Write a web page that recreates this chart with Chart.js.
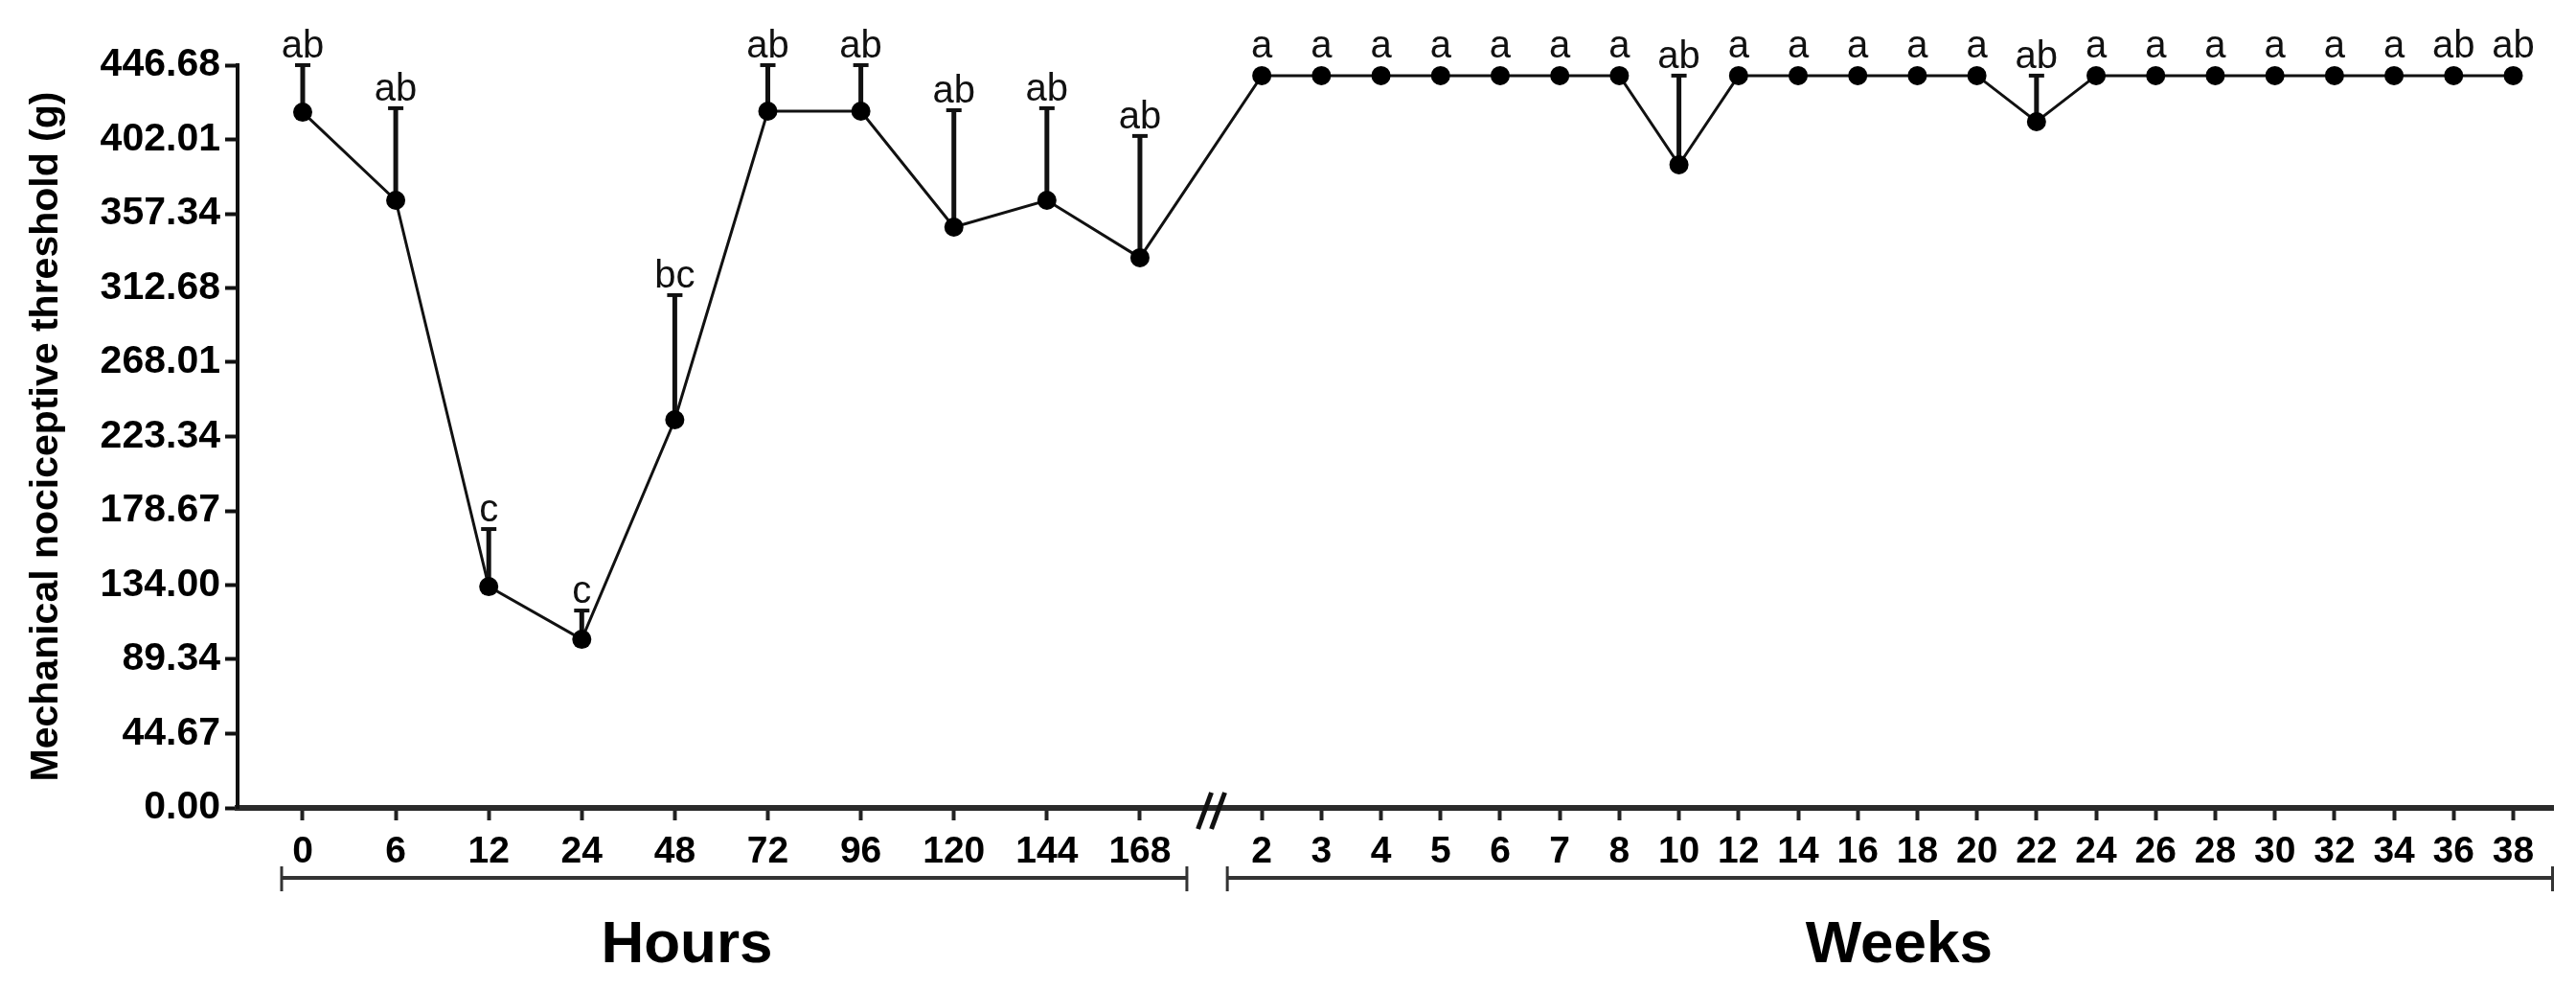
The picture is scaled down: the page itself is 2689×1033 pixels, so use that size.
<!DOCTYPE html>
<html>
<head>
<meta charset="utf-8">
<title>Mechanical nociceptive threshold</title>
<script src="https://cdn.jsdelivr.net/npm/chart.js@4.4.1/dist/chart.umd.min.js"></script>
<style>
  html, body { margin: 0; padding: 0; background: #fff; }
  #wrap { width: 2689px; height: 1033px; }
</style>
</head>
<body>
<div id="wrap"><canvas id="chart" width="2689" height="1033"></canvas></div>
<script>
// hours after treatment
var hourLabels = ['0', '6', '12', '24', '48', '72', '96', '120', '144', '168'];
var hourMeans = [418.4, 365.4, 133.1, 101.4, 233.4, 419.0, 419.0, 349.3, 365.4, 330.9];
var hourErrTops = [446.7, 420.8, 167.7, 118.7, 308.4, 446.7, 446.7, 419.6, 420.8, 404.1];
var hourLetters = ['ab', 'ab', 'c', 'c', 'bc', 'ab', 'ab', 'ab', 'ab', 'ab'];

// weeks after treatment
var weekLabels = ['2', '3', '4', '5', '6', '7', '8', '10', '12', '14', '16',
  '18', '20', '22', '24', '26', '28', '30', '32', '34', '36', '38'];
var weekMeans = [440.4, 440.4, 440.4, 440.4, 440.4, 440.4, 440.4, 386.8, 440.4, 440.4, 440.4,
  440.4, 440.4, 412.7, 440.4, 440.4, 440.4, 440.4, 440.4, 440.4, 440.4, 440.4];
var weekErrTops = [null, null, null, null, null, null, null, 440.4, null, null, null,
  null, null, 440.4, null, null, null, null, null, null, null, null];
var weekLetters = ['a', 'a', 'a', 'a', 'a', 'a', 'a', 'ab', 'a', 'a', 'a',
  'a', 'a', 'ab', 'a', 'a', 'a', 'a', 'a', 'a', 'ab', 'ab'];

var yTickLabels = ['0.00', '44.67', '89.34', '134.00', '178.67', '223.34',
  '268.01', '312.68', '357.34', '402.01', '446.68'];

// x layout: hours one unit apart, weeks packed tighter after the break
var WEEK_START = 10.31;
var WEEK_STEP = 0.6406;
var X_MIN = -0.70;
var X_MAX = 24.19;

var FONT = "'Liberation Sans', Arial, Helvetica, sans-serif";
Chart.defaults.font.family = FONT;
Chart.defaults.color = '#000';

var allX = [], allLabels = [], allMeans = [], allErr = [], allLetters = [];
hourLabels.forEach(function (lab, i) {
  allX.push(i);
  allLabels.push(lab);
  allMeans.push(hourMeans[i]);
  allErr.push(hourErrTops[i]);
  allLetters.push(hourLetters[i]);
});
weekLabels.forEach(function (lab, j) {
  allX.push(WEEK_START + j * WEEK_STEP);
  allLabels.push(lab);
  allMeans.push(weekMeans[j]);
  allErr.push(weekErrTops[j]);
  allLetters.push(weekLetters[j]);
});

var points = allX.map(function (x, i) { return { x: x, y: allMeans[i] }; });

var extras = {
  id: 'extras',
  beforeDatasetsDraw: function (chart) {
    var ctx = chart.ctx, xs = chart.scales.x, ys = chart.scales.y;
    ctx.save();
    ctx.strokeStyle = '#111';
    for (var i = 0; i < allX.length; i++) {
      if (allErr[i] == null) continue;
      var px = xs.getPixelForValue(allX[i]);
      var p0 = ys.getPixelForValue(allMeans[i]);
      var p1 = ys.getPixelForValue(allErr[i]);
      ctx.lineWidth = 5;
      ctx.beginPath();
      ctx.moveTo(px, p0);
      ctx.lineTo(px, p1);
      ctx.stroke();
      ctx.lineWidth = 4;
      ctx.beginPath();
      ctx.moveTo(px - 8, p1);
      ctx.lineTo(px + 8, p1);
      ctx.stroke();
    }
    ctx.restore();
  },
  afterDatasetsDraw: function (chart) {
    var ctx = chart.ctx, xs = chart.scales.x, ys = chart.scales.y;
    ctx.save();
    ctx.fillStyle = '#111';
    ctx.font = '40px ' + FONT;
    ctx.textAlign = 'center';
    ctx.textBaseline = 'alphabetic';
    for (var i = 0; i < allX.length; i++) {
      var px = xs.getPixelForValue(allX[i]);
      var base = allErr[i] != null ? ys.getPixelForValue(allErr[i]) - 8
        : ys.getPixelForValue(allMeans[i]) - 19;
      ctx.fillText(allLetters[i], px, base);
    }
    ctx.restore();
  },
  afterDraw: function (chart) {
    var ctx = chart.ctx, xs = chart.scales.x;
    var nH = hourLabels.length;
    var h0 = xs.getPixelForValue(allX[0]);
    var h1 = xs.getPixelForValue(allX[nH - 1]);
    var w0 = xs.getPixelForValue(allX[nH]);
    var w1 = xs.getPixelForValue(allX[allX.length - 1]);
    ctx.save();

    // axis break
    var bx = (h1 + w0) / 2 + 11;
    ctx.strokeStyle = '#111';
    ctx.lineWidth = 5;
    [-7, 7].forEach(function (d) {
      ctx.beginPath();
      ctx.moveTo(bx + d - 7, 865);
      ctx.lineTo(bx + d + 7, 827);
      ctx.stroke();
    });

    // group brackets
    ctx.strokeStyle = '#333';
    ctx.lineWidth = 4;
    function bracket(a, b) {
      ctx.beginPath();
      ctx.moveTo(a, 916);
      ctx.lineTo(b, 916);
      ctx.stroke();
      ctx.lineWidth = 3;
      ctx.beginPath();
      ctx.moveTo(a, 904);
      ctx.lineTo(a, 930);
      ctx.moveTo(b, 904);
      ctx.lineTo(b, 930);
      ctx.stroke();
      ctx.lineWidth = 4;
    }
    bracket(h0 - 22, h1 + 49);
    bracket(w0 - 36, w1 + 41);

    ctx.fillStyle = '#000';
    ctx.font = 'bold 62px ' + FONT;
    ctx.textAlign = 'center';
    ctx.textBaseline = 'middle';
    ctx.fillText('Hours', (h0 + h1) / 2 - 36, 987);
    ctx.fillText('Weeks', (w0 + w1) / 2 + 12, 987);
    ctx.restore();
  }
};

new Chart(document.getElementById('chart'), {
  type: 'line',
  data: {
    datasets: [{
      data: points,
      borderColor: '#111',
      borderWidth: 3,
      pointRadius: 10,
      pointHoverRadius: 10,
      pointBackgroundColor: '#000',
      pointBorderColor: '#000',
      pointBorderWidth: 0,
      tension: 0,
      clip: false
    }]
  },
  options: {
    responsive: false,
    animation: false,
    devicePixelRatio: 1,
    layout: { padding: { top: 68, right: 24, left: 0, bottom: 0 } },
    plugins: {
      legend: { display: false },
      tooltip: { enabled: false }
    },
    scales: {
      x: {
        type: 'linear',
        min: X_MIN,
        max: X_MAX,
        afterBuildTicks: function (s) {
          s.ticks = allX.map(function (v) { return { value: v }; });
        },
        afterFit: function (s) { s.height = 190; },
        ticks: {
          autoSkip: false,
          maxRotation: 0,
          padding: 10,
          color: '#000',
          font: { size: 39, weight: 'bold' },
          callback: function (v, i) { return allLabels[i]; }
        },
        grid: {
          display: true,
          drawOnChartArea: false,
          drawTicks: true,
          tickLength: 13,
          tickWidth: 4,
          tickColor: '#222'
        },
        border: { display: true, width: 6, color: '#2a2a2a' }
      },
      y: {
        min: 0,
        max: 446.68,
        afterBuildTicks: function (s) {
          s.ticks = yTickLabels.map(function (t) { return { value: parseFloat(t) }; });
        },
        afterFit: function (s) { s.width = 248; },
        ticks: {
          padding: 5,
          color: '#000',
          font: { size: 41, weight: 'bold' },
          callback: function (v, i) { return yTickLabels[i]; }
        },
        grid: {
          display: true,
          drawOnChartArea: false,
          drawTicks: true,
          tickLength: 13,
          tickWidth: 4,
          tickColor: '#111'
        },
        border: { display: true, width: 4, color: '#111' },
        title: {
          display: true,
          text: 'Mechanical nociceptive threshold (g)',
          color: '#000',
          font: { size: 41, weight: 'bold' },
          padding: { top: 24, bottom: 0 }
        }
      }
    }
  },
  plugins: [extras]
});
</script>
</body>
</html>
